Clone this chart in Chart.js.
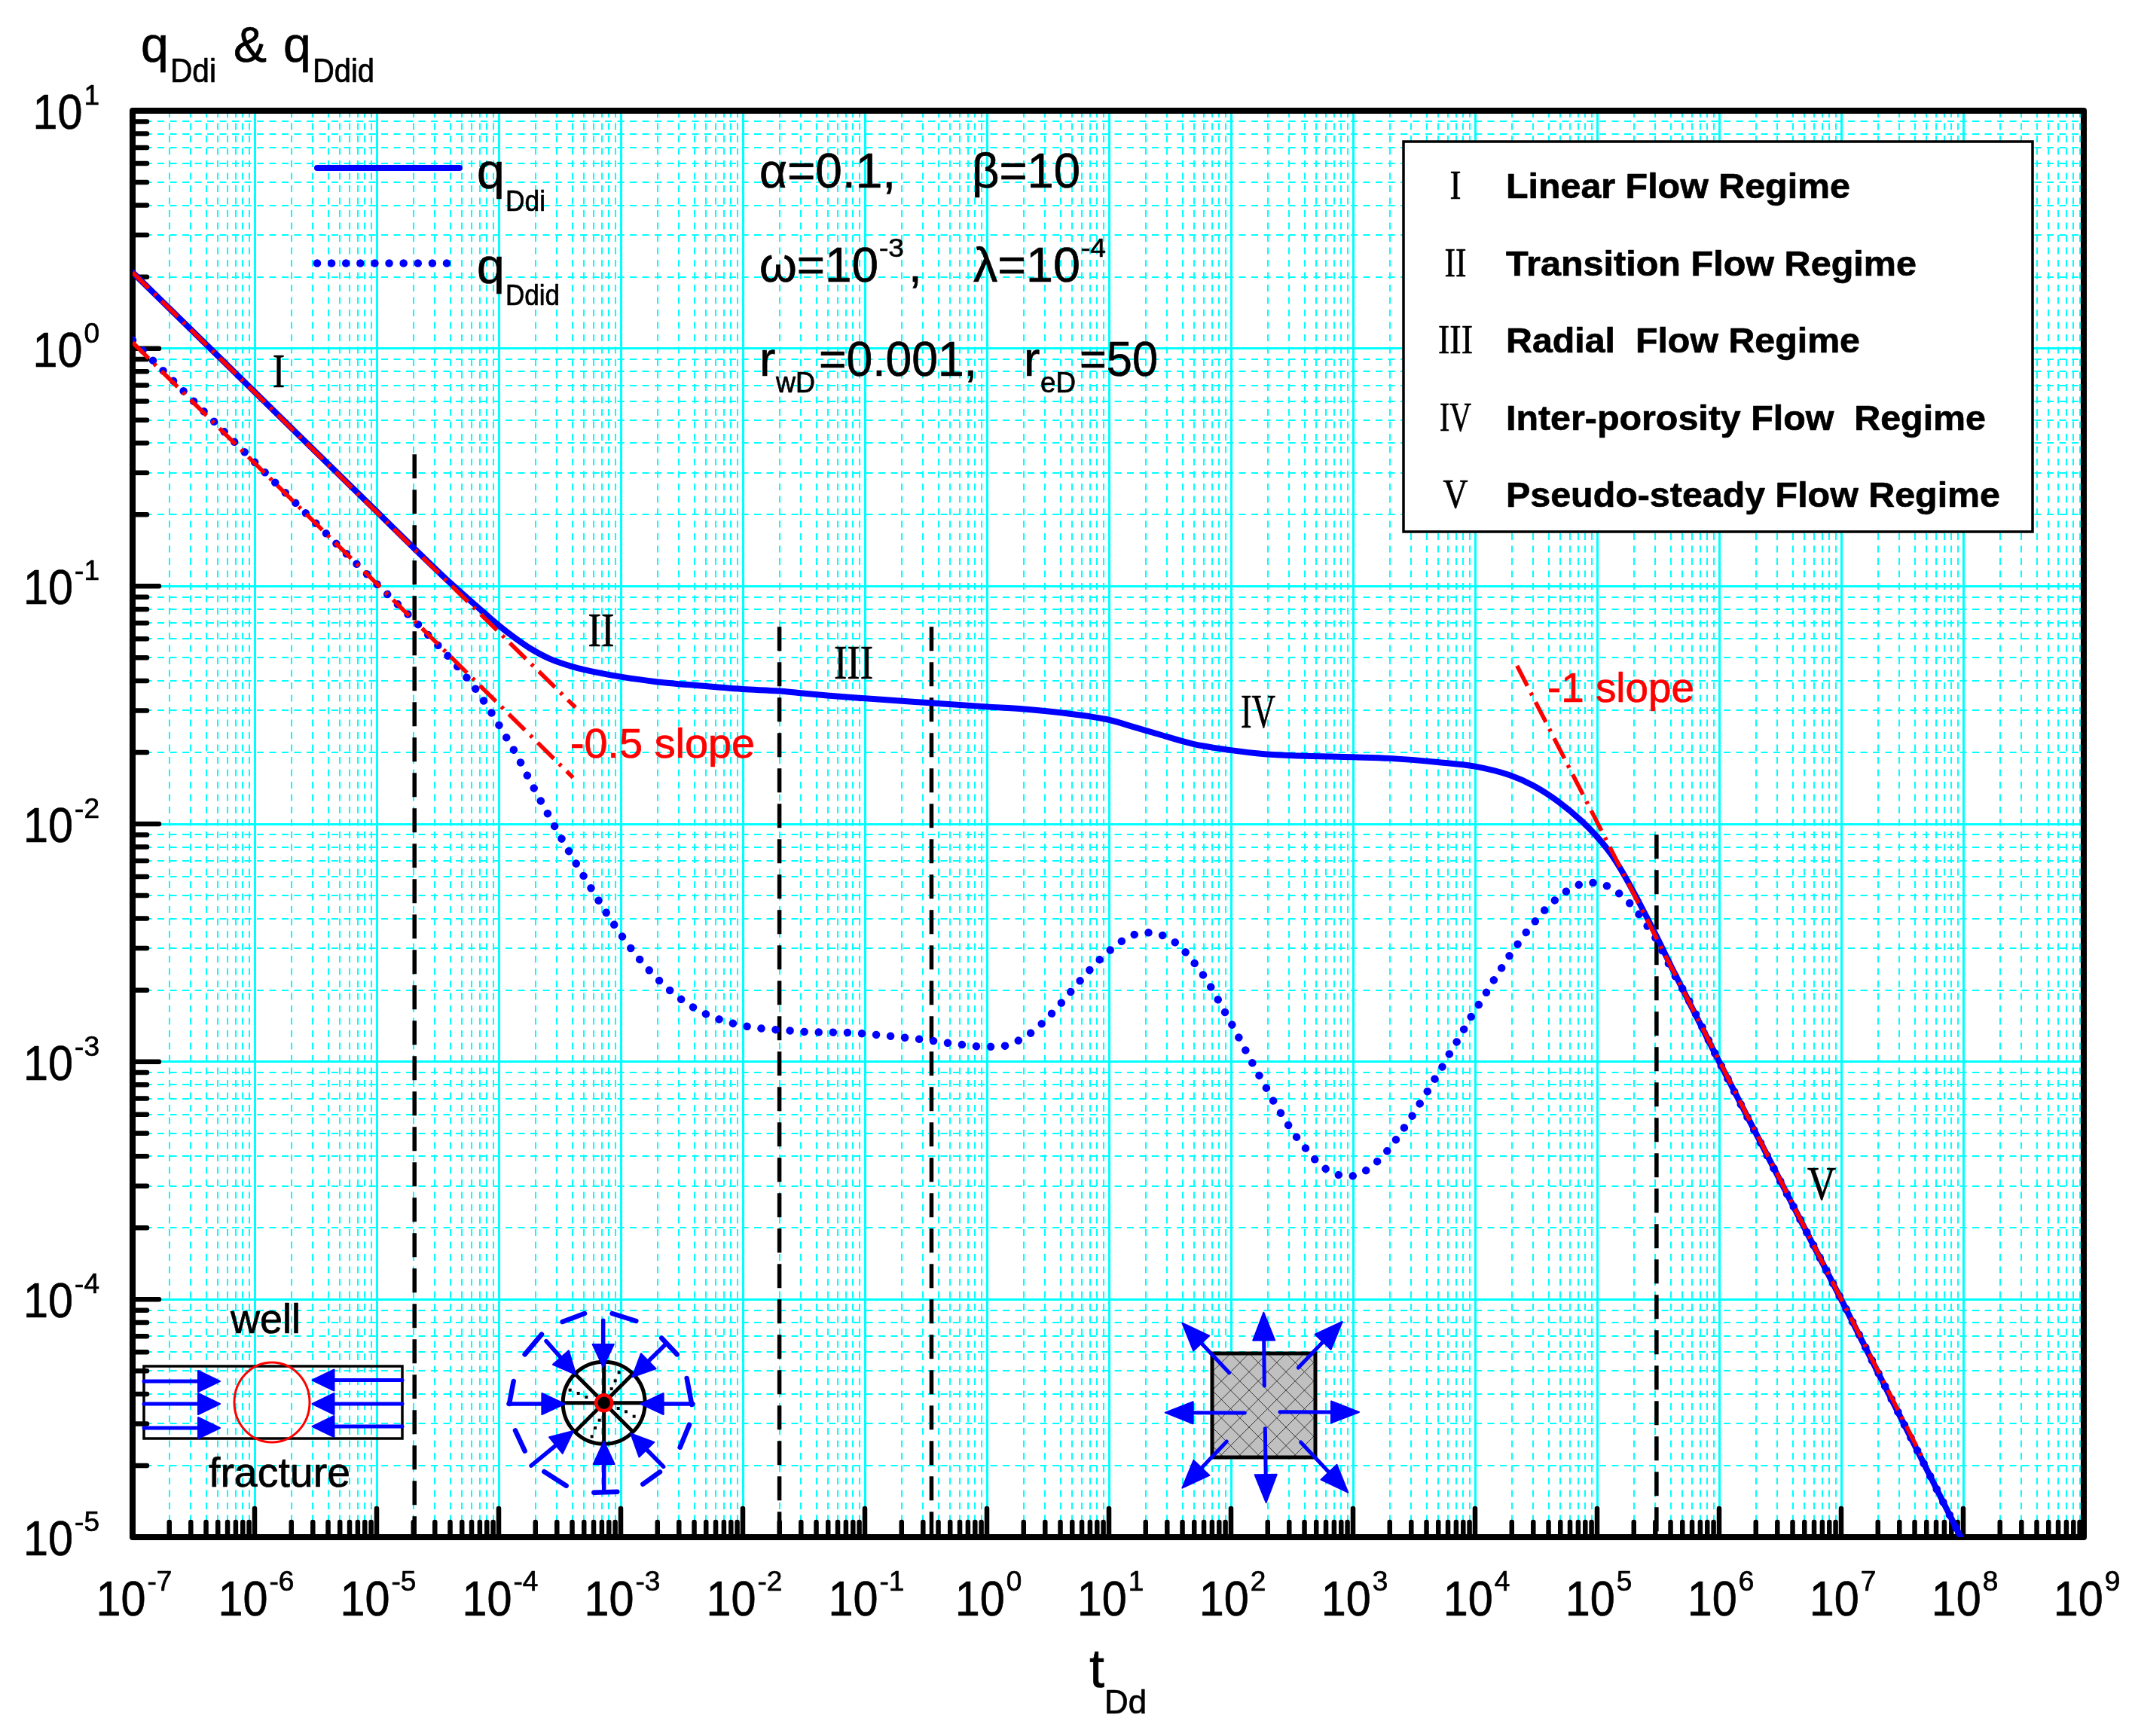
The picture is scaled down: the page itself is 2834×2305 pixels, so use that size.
<!DOCTYPE html>
<html><head><meta charset="utf-8">
<style>html,body{margin:0;padding:0;background:#fff}canvas{display:block}</style>
<script src="https://cdn.jsdelivr.net/npm/chart.js@4"></script>
</head><body>
<canvas id="c" width="2834" height="2305" style="width:2834px;height:2305px"></canvas>
<script>
// ---- values (log10 of t_Dd and log10 of q) ----
const xExponents = [-7,-6,-5,-4,-3,-2,-1,0,1,2,3,4,5,6,7,8,9];
const yExponents = [-5,-4,-3,-2,-1,0,1];
const minorMultipliers = [2,3,4,5,6,7,8,9];

const logTimeDdi = [-7,-6,-5,-4.688,-4.41,-4.177,-4,-3.882,-3.744,-3.587,-3.391,-3.194,-2.998,-2.722,-2.369,-2.003,-1.7,-1.543,-1.307,-0.997,-0.462,-0.002,0.305,0.619,1,1.19,1.409,1.685,2,2.276,2.552,3,3.3,3.694,4,4.285,4.482,4.679,4.876,4.998,5.113,5.231,5.349,5.487,5.625,6,7,7.98];
const logQDdi = [0.32,-0.183,-0.686,-0.843,-0.98,-1.086,-1.165,-1.212,-1.261,-1.304,-1.339,-1.363,-1.381,-1.401,-1.418,-1.433,-1.441,-1.449,-1.46,-1.472,-1.491,-1.507,-1.517,-1.533,-1.562,-1.59,-1.623,-1.663,-1.69,-1.706,-1.713,-1.719,-1.724,-1.74,-1.758,-1.795,-1.84,-1.905,-1.989,-2.053,-2.126,-2.223,-2.335,-2.473,-2.618,-3,-4,-5];

const logTimeDdid = [-7,-6,-5,-4.629,-4.224,-4.086,-3.961,-3.843,-3.733,-3.623,-3.509,-3.391,-3.269,-3.143,-3.017,-2.88,-2.722,-2.546,-2.341,-2.117,-1.885,-1.653,-1.417,-1.182,-0.946,-0.71,-0.478,-0.246,-0.01,0.104,0.21,0.308,0.399,0.485,0.568,0.65,0.729,0.807,0.886,0.973,1.067,1.173,1.287,1.397,1.504,1.594,1.673,1.748,1.815,1.874,1.933,1.992,2.047,2.102,2.158,2.213,2.272,2.327,2.386,2.449,2.512,2.587,2.662,2.745,2.851,2.969,3.08,3.174,3.261,3.336,3.407,3.474,3.537,3.596,3.655,3.718,3.773,3.836,3.895,3.95,4.013,4.076,4.136,4.199,4.262,4.329,4.396,4.47,4.541,4.624,4.719,4.829,4.947,5.057,5.16,5.243,5.325,5.404,5.471,5.625,5.743,6,7,7.98];
const logQDdid = [0.035,-0.478,-0.99,-1.178,-1.409,-1.511,-1.616,-1.72,-1.829,-1.934,-2.04,-2.145,-2.249,-2.354,-2.452,-2.548,-2.64,-2.722,-2.79,-2.834,-2.858,-2.868,-2.876,-2.877,-2.885,-2.897,-2.91,-2.926,-2.937,-2.937,-2.922,-2.897,-2.864,-2.822,-2.777,-2.729,-2.68,-2.635,-2.59,-2.548,-2.507,-2.473,-2.457,-2.462,-2.485,-2.521,-2.568,-2.618,-2.669,-2.721,-2.776,-2.829,-2.882,-2.935,-2.989,-3.042,-3.094,-3.147,-3.198,-3.25,-3.3,-3.348,-3.397,-3.439,-3.471,-3.482,-3.465,-3.431,-3.387,-3.339,-3.287,-3.237,-3.185,-3.137,-3.085,-3.034,-2.982,-2.929,-2.876,-2.826,-2.774,-2.723,-2.671,-2.621,-2.569,-2.521,-2.471,-2.424,-2.379,-2.335,-2.294,-2.26,-2.247,-2.256,-2.285,-2.321,-2.368,-2.424,-2.473,-2.626,-2.734,-3,-4,-5];

const halfSlopeUpperT = [-7,-3.371];
const halfSlopeUpperQ = [0.32,-1.51];
const halfSlopeLowerT = [-7,-3.391];
const halfSlopeLowerQ = [0.025,-1.805];
const unitSlopeT = [4.344,7.68];
const unitSlopeQ = [-1.335,-4.68];

const regimeBoundaryT = [-4.69,-1.70,-0.454,5.487];
const regimeBoundaryTop = [-0.445,-1.171,-1.171,-2.045];

const regimeRows = ['Linear Flow Regime','Transition Flow Regime','Radial  Flow Regime','Inter-porosity Flow  Regime','Pseudo-steady Flow Regime'];
const regimeNumerals = ['I','II','III','IV','V'];

// ---- styling ----
const SANS='"Liberation Sans",Arial,sans-serif', SERIF='"Liberation Serif","Times New Roman",serif';
const BLUE='#0000ff', RED='#ff0000', CYAN='#00ffff';
const pow = a => a.map(v => Math.pow(10,v));
const pts = (tx,qy) => pow(tx).map((x,i)=>({x,y:Math.pow(10,qy[i])}));
const buildTicks = exps => {
  const out=[];
  exps.forEach((e,i)=>{
    out.push({value:Number('1e'+e),major:true,exponent:e});
    if(i<exps.length-1) minorMultipliers.forEach(m=>out.push({value:Number(m+'e'+e),major:false}));
  });
  return out;
};

function txt(ctx,s,x,y,font,color,w){
  ctx.save();
  ctx.font=font;ctx.fillStyle=color||'#000';ctx.strokeStyle=color||'#000';ctx.lineWidth=0.7;ctx.lineJoin='round';
  ctx.textBaseline='alphabetic';ctx.textAlign='left';
  ctx.translate(x,y);
  if(w){const m=ctx.measureText(s).width;ctx.scale(w/m,1);}
  ctx.fillText(s,0,0);ctx.strokeText(s,0,0);
  ctx.restore();
}
function ctxt(ctx,s,cx,y,font,w){ // centred numeral fit to width
  txt(ctx,s,cx-w/2,y,font,'#000',w);
}
function seg(ctx,a,b,c,d,lw,col,cap){
  ctx.save();ctx.strokeStyle=col;ctx.lineWidth=lw;ctx.lineCap=cap||'round';ctx.setLineDash([]);
  ctx.beginPath();ctx.moveTo(a,b);ctx.lineTo(c,d);ctx.stroke();ctx.restore();
}
function arrow(ctx,x0,y0,x1,y1,lw,len,half){
  const d=Math.hypot(x1-x0,y1-y0),ux=(x1-x0)/d,uy=(y1-y0)/d,bx=x1-ux*len,by=y1-uy*len;
  seg(ctx,x0,y0,bx,by,lw,BLUE);
  ctx.save();ctx.fillStyle=BLUE;ctx.strokeStyle=BLUE;ctx.lineWidth=2;ctx.lineJoin='round';
  ctx.beginPath();ctx.moveTo(x1,y1);ctx.lineTo(bx-uy*half,by+ux*half);ctx.lineTo(bx+uy*half,by-ux*half);ctx.closePath();ctx.fill();ctx.stroke();ctx.restore();
}

const axisDecor={
  id:'axisDecor',
  beforeDraw(chart){const {ctx,width,height}=chart;ctx.save();ctx.fillStyle='#fff';ctx.fillRect(0,0,width,height);ctx.restore();},
  beforeDatasetsDraw(chart){
    const {ctx,chartArea:a,scales:{x,y}}=chart;
    ctx.save();
    ctx.strokeStyle='#000';ctx.lineCap='round';ctx.setLineDash([]);
    x.ticks.forEach(t=>{const p=x.getPixelForValue(t.value);if(p<a.left+1||p>a.right-1)return;
      ctx.lineWidth=6.5;ctx.beginPath();ctx.moveTo(p,a.bottom);ctx.lineTo(p,a.bottom-(t.major?38:20));ctx.stroke();});
    y.ticks.forEach(t=>{const p=y.getPixelForValue(t.value);if(p>a.bottom-1||p<a.top+1)return;
      ctx.lineWidth=6.5;ctx.beginPath();ctx.moveTo(a.left,p);ctx.lineTo(a.left+(t.major?35:19),p);ctx.stroke();});
    ctx.lineCap='butt';ctx.lineJoin='round';ctx.lineWidth=8;ctx.strokeRect(a.left,a.top,a.right-2-a.left,a.bottom-a.top);
    ctx.restore();
    // tick labels
    const lab=SANS;
    y.ticks.filter(t=>t.major).forEach(t=>{
      const p=y.getPixelForValue(t.value),s=String(t.exponent);
      ctx.font='37px '+lab;const sw=ctx.measureText(s).width;const sx=132-sw;
      txt(ctx,'10',sx-68,p+24,'65px '+lab,'#000',66);
      txt(ctx,s,sx,p-8,'37px '+lab);
    });
    x.ticks.filter(t=>t.major).forEach(t=>{
      const p=x.getPixelForValue(t.value),s=String(t.exponent);
      ctx.font='37px '+lab;const sw=ctx.measureText(s).width;const tot=66+2+sw,l=p+2-tot/2;
      txt(ctx,'10',l,a.bottom+104,'65px '+lab,'#000',66);
      txt(ctx,s,l+68,a.bottom+71,'37px '+lab);
    });
  },
  afterDatasetsDraw(chart){
    const {ctx}=chart;
    // axis titles
    txt(ctx,'q',187,82,'66px '+SANS);txt(ctx,'Ddi',226,109,'44px '+SANS,'#000',61);
    txt(ctx,'&',310,82,'66px '+SANS);
    txt(ctx,'q',376,82,'66px '+SANS);txt(ctx,'Ddid',415,109,'44px '+SANS,'#000',82);
    txt(ctx,'t',1446,2240,'72px '+SANS);txt(ctx,'Dd',1466,2275,'44px '+SANS,'#000',56);
    // series key
    seg(ctx,421,223,610,223,8,BLUE);
    ctx.save();ctx.strokeStyle=BLUE;ctx.lineWidth=10.5;ctx.lineCap='round';ctx.setLineDash([0.01,19.1]);
    ctx.beginPath();ctx.moveTo(421,349.5);ctx.lineTo(595,349.5);ctx.stroke();ctx.restore();
    txt(ctx,'q',633,250,'66px '+SANS);txt(ctx,'Ddi',671,280,'39px '+SANS,'#000',53);
    txt(ctx,'q',633,376,'66px '+SANS);txt(ctx,'Ddid',671,405,'39px '+SANS,'#000',72);
    // parameters
    const F='64px '+SANS,S='35px '+SANS,U='38px '+SANS;
    txt(ctx,'α=0.1,',1008,249,F,'#000',181);txt(ctx,'β=10',1290,249,F,'#000',144);
    txt(ctx,'ω=10',1008,374,F,'#000',158);txt(ctx,'-3',1167,341,S,'#000',33);txt(ctx,',',1206,374,F);
    txt(ctx,'λ=10',1292,374,F,'#000',142);txt(ctx,'-4',1435,341,S,'#000',33);
    txt(ctx,'r',1008,499,F);txt(ctx,'wD',1030,521,U,'#000',52);txt(ctx,'=0.001,',1087,499,F,'#000',210);
    txt(ctx,'r',1359,499,F);txt(ctx,'eD',1381,521,U,'#000',47);txt(ctx,'=50',1433,499,F,'#000',104);
    // annotations
    txt(ctx,'-0.5 slope',757,1006,'55px '+SANS,RED,245);
    txt(ctx,'-1 slope',2054,932,'55px '+SANS,RED,195);
    const RN='64px '+SERIF;
    ctxt(ctx,'I',370,514,RN,16);ctxt(ctx,'II',798,858,RN,35);ctxt(ctx,'III',1133,901,RN,52);
    ctxt(ctx,'IV',1670,966,RN,46);ctxt(ctx,'V',2418,1593,RN,38);
    // regime table
    ctx.save();ctx.fillStyle='#fff';ctx.strokeStyle='#000';ctx.lineWidth=3.5;
    ctx.fillRect(1863,188,835,518);ctx.strokeRect(1863,188,835,518);ctx.restore();
    const rowBase=[263,366,468,571,673],rowW=[457,545,470,637,656],numW=[15,29,46,42,33];
    regimeRows.forEach((r,i)=>{
      txt(ctx,r,1999,rowBase[i],'bold 47px '+SANS,'#000',rowW[i]);
      ctxt(ctx,regimeNumerals[i],1932,rowBase[i]+1,'54px '+SERIF,numW[i]);
    });
    // fracture sketch
    ctx.save();ctx.strokeStyle='#000';ctx.lineWidth=3.5;ctx.strokeRect(191,1814,343,96);
    ctx.strokeStyle=RED;ctx.lineWidth=3;ctx.beginPath();ctx.ellipse(361,1862,50,53,0,0,Math.PI*2);ctx.stroke();ctx.restore();
    [1834,1864,1896].forEach(v=>arrow(ctx,191,v,292,v,5,29,14));
    [1832.5,1864,1894].forEach(v=>arrow(ctx,534,v,414.5,v,5,29,14));
    txt(ctx,'well',306,1770,'55px '+SANS,'#000',93);
    txt(ctx,'fracture',277,1974,'55px '+SANS,'#000',188);
    // radial sketch
    const R=(a,b)=>[660+a/3,1720+b/3];
    const [cx,cy]=R(425,428);
    [[260,105,348,72],[458,72,553,102],[655,170,716,235],[755,330,775,435],[765,515,728,605],[648,703,580,752],[385,785,478,782],[275,758,187,702],[110,620,72,538],[48,432,65,342],[110,235,177,155]]
      .forEach(s=>{const [p,q]=R(s[0],s[1]),[u,v]=R(s[2],s[3]);seg(ctx,p,q,u,v,6.5,BLUE);});
    ctx.save();ctx.strokeStyle='#000';ctx.lineWidth=5;
    ctx.beginPath();ctx.arc(cx,cy,54.5,0,Math.PI*2);ctx.stroke();
    for(let k=0;k<4;k++){const [c,s]=[[0,1],[1,0],[0.71,0.71],[-0.71,0.71]][k];
      ctx.beginPath();ctx.moveTo(cx-c*54,cy-s*54);ctx.lineTo(cx+c*54,cy+s*54);ctx.stroke();}
    ctx.fillStyle='#000';
    [[290,377],[323,390],[355,405],[407,497],[390,528],[377,562],[482,450],[513,463],[545,482],[455,372],[470,340],[485,307]]
      .forEach(d=>{const [p,q]=R(d[0],d[1]);ctx.fillRect(p-2,q-2,4,4);});
    ctx.beginPath();ctx.arc(cx,cy,9,0,Math.PI*2);ctx.fill();
    ctx.strokeStyle=RED;ctx.lineWidth=4.5;ctx.beginPath();ctx.arc(cx,cy,10.5,0,Math.PI*2);ctx.stroke();
    ctx.restore();
    [[422,100,422,285],[45,432,268,432],[780,432,572,432],[425,770,425,582],[195,182,313,315],[668,197,538,325],[135,678,303,540],[662,682,532,550]]
      .forEach(s=>{const [p,q]=R(s[0],s[1]),[u,v]=R(s[2],s[3]);arrow(ctx,p,q,u,v,5.5,30,14);});
    // matrix block sketch
    const M=(a,b)=>[1530+a/3,1730+b/3];
    ctx.save();ctx.beginPath();ctx.rect(1609,1797,137,138);ctx.fillStyle='#c0c0c0';ctx.fill();ctx.clip();
    ctx.strokeStyle='rgba(30,30,30,0.85)';ctx.lineWidth=1;
    for(let k=-147;k<=294;k+=24.5){
      ctx.beginPath();ctx.moveTo(1609+k,1797);ctx.lineTo(1609+k+138,1935);ctx.stroke();
      ctx.beginPath();ctx.moveTo(1609+k,1797);ctx.lineTo(1609+k-138,1935);ctx.stroke();
    }
    ctx.restore();
    ctx.save();ctx.strokeStyle='#000';ctx.lineWidth=5;ctx.strokeRect(1609,1797,137,138);ctx.restore();
    [[445,330,442,38],[448,500,452,795],[367,438,50,437],[507,434,822,435],[305,278,118,80],[580,258,755,75],[295,552,118,737],[590,555,778,755]]
      .forEach(s=>{const [p,q]=M(s[0],s[1]),[u,v]=M(s[2],s[3]);arrow(ctx,p,q,u,v,5,37,14.5);});
  }
};

const gridFor = () => ({
  drawTicks:false,drawOnChartArea:true,color:CYAN,
  lineWidth:c=>c.tick&&c.tick.major?3:2
});
const borderFor = pattern => ({display:false,dash:c=>c.tick&&c.tick.major?[]:pattern});

const boundaryDatasets = regimeBoundaryT.map((t,i)=>({
  label:'regime boundary '+(i+1),
  data:pts([t,t],[regimeBoundaryTop[i],-5]),
  borderColor:'#000',borderWidth:5.5,borderDash:[32,15],pointRadius:0,order:5
}));
const redLine=(label,tx,qy,w)=>({label,data:pts(tx,qy),borderColor:RED,borderWidth:w,borderDash:[30,10,4,10],pointRadius:0,order:1});

new Chart(document.getElementById('c'),{
  type:'line',
  data:{datasets:[
    {label:'qDdi',data:pts(logTimeDdi,logQDdi),borderColor:BLUE,borderWidth:8,pointRadius:0,cubicInterpolationMode:'monotone',borderCapStyle:'round',borderJoinStyle:'round',order:3},
    {label:'qDdid',data:pts(logTimeDdid,logQDdid),borderColor:BLUE,borderWidth:10.5,borderCapStyle:'round',borderDash:[0.01,19.1],pointRadius:0,cubicInterpolationMode:'monotone',order:2},
    redLine('-0.5 slope upper',halfSlopeUpperT,halfSlopeUpperQ,5.5),
    redLine('-0.5 slope lower',halfSlopeLowerT,halfSlopeLowerQ,5.5),
    redLine('-1 slope',unitSlopeT,unitSlopeQ,5.5),
    ...boundaryDatasets
  ]},
  options:{
    responsive:false,animation:false,devicePixelRatio:1,parsing:true,
    layout:{padding:{left:176,top:147,right:66,bottom:264}},
    plugins:{legend:{display:false},title:{display:false},tooltip:{enabled:false}},
    scales:{
      x:{type:'logarithmic',min:1e-7,max:1e9,
        afterBuildTicks:a=>{a.ticks=buildTicks(xExponents);},
        ticks:{display:false,autoSkip:false},grid:gridFor(),border:borderFor([9,7.5])},
      y:{type:'logarithmic',min:1e-5,max:10,
        afterBuildTicks:a=>{a.ticks=buildTicks(yExponents);},
        ticks:{display:false,autoSkip:false},grid:gridFor(),border:borderFor([9,7.5])}
    }
  },
  plugins:[axisDecor]
});
</script>
</body></html>
